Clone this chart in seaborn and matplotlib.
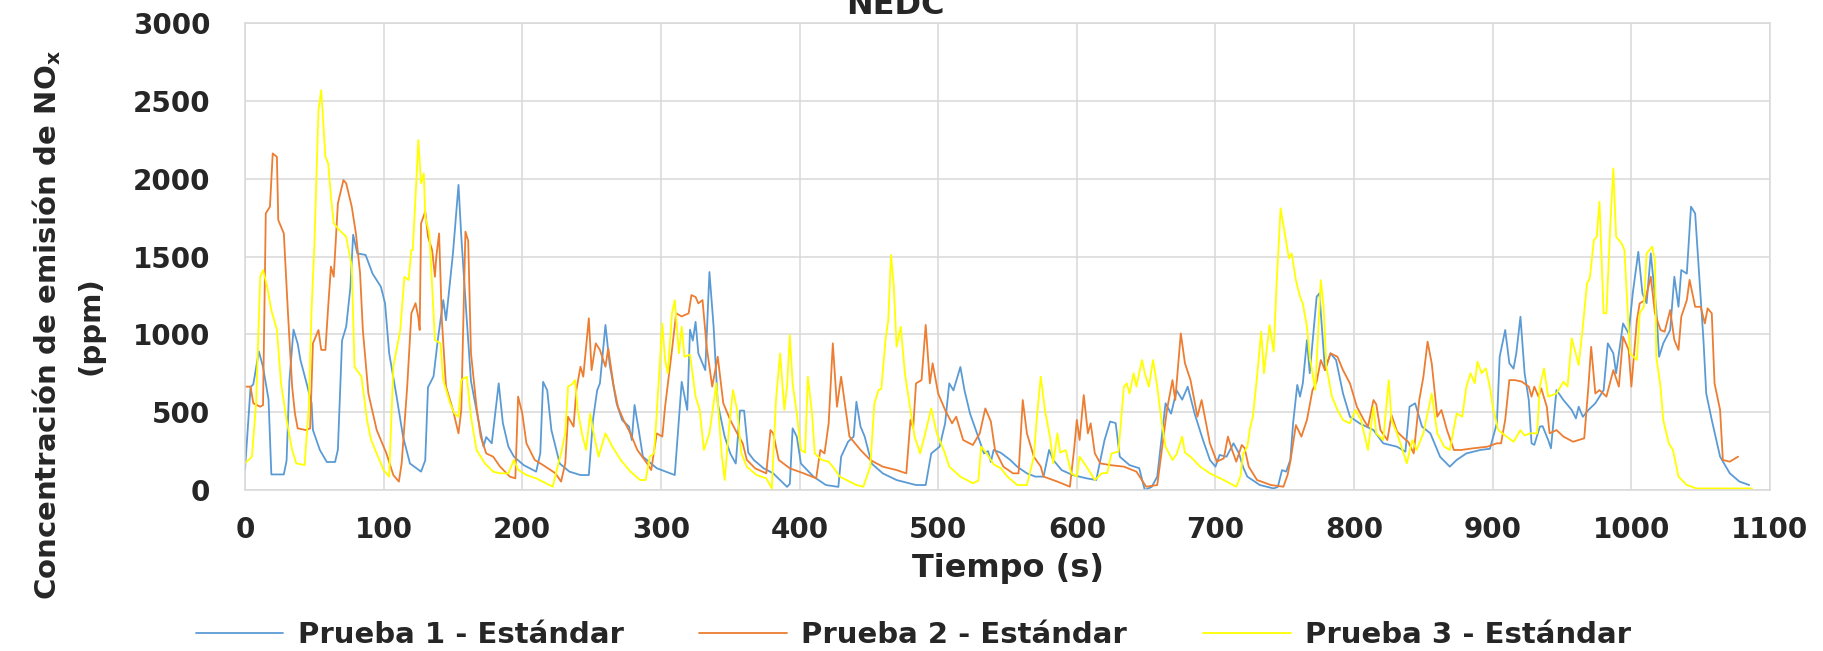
import matplotlib
matplotlib.use("Agg")
import matplotlib.pyplot as plt
import seaborn as sns
import pandas as pd

# ---------------- data ----------------
p1_t = [0,4,6,10,13,17,19,28,30,32,35,38,40,44,48,49,54,59,65,67,70,73,76,78,81,87,92,98,101,104,109,114,119,127,130,132,136,139,143,145,150,154,156,160,163,167,172,174,178,183,186,190,194,201,210,213,215,218,221,227,234,242,248,251,254,256,260,263,268,272,277,279,281,284,287,297,310,315,319,321,323,325,327,332,335,338,341,346,350,354,357,360,363,367,374,381,391,393,395,398,401,410,419,428,430,435,439,441,444,447,452,460,470,484,491,495,501,505,508,511,516,519,523,528,533,536,538,540,545,552,557,564,570,576,580,583,589,597,607,614,620,624,628,631,638,645,649,654,658,661,664,668,672,676,680,685,691,696,700,703,708,713,717,720,723,732,742,745,748,751,754,756,759,761,763,766,768,773,775,779,783,787,792,797,804,814,821,831,837,840,844,849,855,862,869,874,881,891,898,903,905,909,912,915,917,920,923,926,928,930,934,936,940,942,946,951,957,960,962,965,969,974,980,983,987,989,994,998,1001,1005,1008,1011,1014,1018,1020,1023,1028,1031,1034,1036,1040,1043,1046,1049,1052,1054,1058,1064,1071,1078,1085]
p1_v = [130,660,680,890,790,580,100,100,190,700,1030,940,835,700,560,385,257,180,180,260,960,1050,1300,1640,1520,1510,1390,1306,1200,878,620,343,170,118,190,660,730,960,1220,1090,1520,1960,1630,1090,700,510,280,340,300,685,430,278,214,160,118,235,695,640,385,170,118,96,96,450,640,685,1060,810,557,450,407,321,546,385,214,140,96,695,514,1030,960,1080,878,770,1400,1050,557,343,235,170,510,510,240,193,140,107,20,40,396,343,170,86,32,20,214,310,343,567,407,343,170,107,64,32,32,235,278,428,685,640,790,640,490,364,235,250,180,257,240,193,150,107,86,86,257,193,128,96,75,64,321,440,430,214,160,140,0,20,86,321,557,490,640,580,664,490,321,193,150,225,214,300,235,145,86,32,10,20,128,118,193,428,675,600,685,963,750,1242,1263,770,878,835,620,471,428,385,300,278,246,535,557,407,364,214,150,193,235,257,265,430,856,1028,814,780,878,1113,750,578,300,290,407,410,321,268,642,578,514,460,535,470,514,557,642,942,878,750,1070,1006,1263,1530,1263,1200,1520,1156,856,942,1028,1370,1177,1413,1390,1820,1777,1370,963,620,450,214,107,54,32]

p2_t = [0,4,6,11,13,15,18,20,23,24,28,31,34,36,38,44,47,49,53,55,58,60,62,64,67,71,73,77,80,83,85,89,95,102,107,111,113,117,120,123,125,126,127,130,132,135,137,138,140,142,145,150,154,156,159,161,163,167,170,174,179,184,191,195,197,200,203,209,215,224,228,231,233,237,239,242,244,248,250,253,256,260,262,266,269,273,278,283,290,293,297,301,303,308,311,315,320,322,325,327,330,333,337,341,345,350,355,359,362,368,376,379,381,385,393,403,412,415,418,421,424,427,430,433,436,444,451,460,470,477,480,482,484,488,491,494,496,500,505,510,513,518,525,530,534,538,541,547,554,558,561,564,569,574,576,586,595,598,600,602,605,608,610,613,617,624,634,643,650,658,661,665,669,671,675,678,682,687,690,696,701,706,709,712,715,719,721,724,730,740,749,752,754,758,762,766,770,773,776,779,783,788,792,797,802,807,810,814,816,819,824,827,831,836,839,843,847,850,853,856,860,863,867,872,877,886,896,903,906,909,912,916,921,926,928,930,933,935,939,941,946,951,958,966,969,971,974,977,982,987,991,994,998,1000,1004,1006,1010,1014,1017,1021,1024,1028,1031,1034,1036,1040,1042,1046,1050,1053,1055,1058,1060,1064,1066,1071,1077]
p2_v = [664,664,557,535,545,1777,1820,2162,2140,1734,1648,1135,664,492,396,385,396,942,1028,900,900,1177,1435,1370,1841,1991,1970,1820,1648,1392,1028,620,385,235,96,54,171,664,1135,1200,1110,1028,1713,1788,1627,1541,1370,1500,1648,1092,664,514,364,514,1660,1600,878,535,343,235,214,150,86,75,600,492,300,193,160,107,54,171,471,407,642,792,728,1103,770,942,900,792,910,664,535,450,364,257,171,128,364,343,535,900,1135,1115,1135,1252,1240,1199,1220,920,664,856,557,450,364,300,193,139,107,385,364,193,139,107,75,257,235,428,942,535,728,535,343,257,193,150,128,107,450,400,685,706,1060,685,814,620,514,428,471,321,289,364,524,440,257,150,107,107,578,364,214,150,86,54,21,257,450,321,610,364,428,235,171,160,150,118,21,32,235,514,706,578,1006,814,706,471,578,300,182,203,343,257,182,289,270,150,64,32,21,96,182,417,343,450,642,696,835,770,878,856,770,685,535,450,407,578,550,385,321,482,375,332,310,235,578,728,953,814,471,514,385,257,257,268,278,300,300,450,706,706,696,664,600,664,600,653,535,364,385,343,310,332,664,920,620,642,600,770,664,985,900,664,1092,1199,1220,1370,1135,1028,1017,1156,963,900,1113,1220,1350,1177,1177,1070,1167,1135,685,514,193,182,214]

p3_t = [0,5,8,11,13,16,19,23,26,30,34,37,43,46,48,50,53,55,58,60,62,64,68,73,77,79,84,88,91,95,100,104,107,112,115,118,120,121,124,125,127,129,130,133,137,141,143,148,151,154,156,160,163,167,173,179,184,190,194,197,203,210,222,226,228,231,233,236,238,240,243,246,249,251,255,260,265,271,278,285,289,292,295,297,301,303,305,308,310,313,315,317,321,325,328,331,335,340,344,346,349,352,355,358,362,369,376,380,383,386,389,391,393,395,398,401,404,406,409,411,416,421,424,429,436,441,446,451,454,457,459,462,464,466,468,470,473,476,480,483,487,490,495,499,504,508,516,525,529,531,535,540,545,550,557,564,569,571,574,577,581,583,586,588,592,596,600,602,607,613,618,622,625,630,634,636,638,641,643,647,649,652,655,658,661,664,669,672,676,678,682,689,696,706,715,718,720,723,725,727,730,733,735,739,742,744,747,750,753,755,758,761,763,766,768,772,776,778,780,784,788,792,797,801,805,810,814,816,821,825,827,831,838,842,845,850,856,860,865,869,874,878,881,884,887,889,892,895,898,900,904,910,915,920,923,927,932,934,937,940,946,951,954,957,962,965,968,970,973,975,977,980,982,985,987,989,993,995,999,1004,1006,1009,1011,1015,1017,1018,1021,1023,1027,1030,1034,1040,1047,1066,1087]
p3_v = [171,214,557,1370,1413,1306,1156,1028,685,450,257,171,160,535,1156,1563,2440,2569,2141,2098,1884,1713,1670,1627,1435,792,728,450,321,235,128,86,792,1028,1370,1349,1541,1541,2055,2248,1970,2034,1755,1648,963,942,706,557,492,471,706,728,471,257,171,118,107,107,193,130,96,75,21,171,235,364,664,680,706,514,364,257,492,385,214,364,278,193,118,64,64,214,235,492,1070,835,750,1135,1220,878,1049,856,870,600,514,257,364,685,214,64,385,642,514,235,150,96,75,10,578,878,514,664,995,685,492,257,240,728,492,235,193,182,150,86,54,32,21,150,557,642,650,963,1092,1510,1306,920,1049,750,514,343,235,340,524,364,257,150,86,43,60,278,235,165,140,86,32,32,214,450,728,514,321,171,364,240,257,107,86,214,150,64,107,110,235,246,664,685,620,750,664,835,750,664,835,664,450,278,193,230,343,240,214,150,107,64,21,86,235,278,400,471,728,1017,750,1060,888,1306,1809,1648,1488,1520,1349,1242,1199,1049,856,642,1349,1177,792,600,514,450,428,514,450,257,535,364,321,706,450,364,171,321,257,364,620,364,278,257,492,471,664,750,685,824,750,781,660,535,385,343,310,385,350,364,364,664,781,600,620,696,664,974,803,1049,1327,1360,1606,1627,1852,1135,1135,1734,2066,1627,1584,1541,878,835,1135,1177,1520,1563,1477,856,664,450,300,257,86,32,10,10,10]

series_names = ["Prueba 1 - Estándar", "Prueba 2 - Estándar", "Prueba 3 - Estándar"]
series_colors = ["#5B9BD5", "#ED7D31", "#FFFF00"]
x_ticks = [0, 100, 200, 300, 400, 500, 600, 700, 800, 900, 1000, 1100]
y_ticks = [0, 500, 1000, 1500, 2000, 2500, 3000]

df = pd.concat([
    pd.DataFrame({"t": p1_t, "v": p1_v, "serie": series_names[0]}),
    pd.DataFrame({"t": p2_t, "v": p2_v, "serie": series_names[1]}),
    pd.DataFrame({"t": p3_t, "v": p3_v, "serie": series_names[2]}),
], ignore_index=True)

# ---------------- styling ----------------
sns.set_style("white")
plt.rcParams["font.family"] = ["DejaVu Sans"]
plt.rcParams["font.weight"] = "bold"

fig = plt.figure(figsize=(18.23, 6.51), dpi=100)
ax = fig.add_axes([245 / 1823, 1 - 490 / 651, 1525 / 1823, 467 / 651])

sns.lineplot(data=df, x="t", y="v", hue="serie", palette=dict(zip(series_names, series_colors)),
             estimator=None, sort=False, linewidth=1.3, ax=ax, legend=False)

ax.set_xlim(0, 1100)
ax.set_ylim(0, 3000)
ax.set_xticks(x_ticks)
ax.set_yticks(y_ticks)
ax.grid(True, color="#D9D9D9", linewidth=1.1)
ax.set_axisbelow(True)
for s in ax.spines.values():
    s.set_color("#D9D9D9")
    s.set_linewidth(1.1)
ax.tick_params(axis="both", length=0, labelsize=20)
ax.tick_params(axis="x", pad=19)
ax.tick_params(axis="y", pad=25)
for lab in ax.get_xticklabels() + ax.get_yticklabels():
    lab.set_fontweight("bold")

ax.set_xlabel("Tiempo (s)", fontsize=23, fontweight="bold", labelpad=6)
ax.set_ylabel("Concentración de emisión de NO$_\\mathregular{x}$\n(ppm)", fontsize=21,
              fontweight="bold", linespacing=1.6)
ax.yaxis.set_label_coords(-0.092, 0.353)

fig.text(0.491, 1 - 14 / 651, "NEDC", ha="center", va="baseline", fontsize=23, fontweight="bold")

handles = [plt.Line2D([], [], color=c, linewidth=1.3) for c in series_colors]
fig.legend(handles, series_names, loc="center", bbox_to_anchor=(0.501, 0.025), ncol=3,
           frameon=False, fontsize=21, handlelength=3.0, handletextpad=0.5, columnspacing=2.6,
           prop={"weight": "bold", "size": 21})

fig.savefig("out.png", dpi=100)
